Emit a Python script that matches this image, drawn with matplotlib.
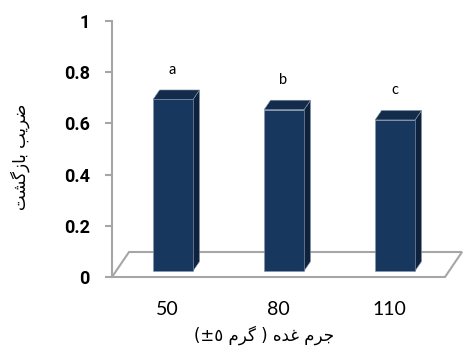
import matplotlib.pyplot as plt
from matplotlib.patches import Polygon, Rectangle

# recovery ratio per tuber weight class
categories = ['50', '80', '110']
values = [0.67, 0.63, 0.59]
letters = ['a', 'b', 'c']
yticks = [0, 0.2, 0.4, 0.6, 0.8, 1]
ytick_labels = ['0', '0.2', '0.4', '0.6', '0.8', '1']

# persian labels, pre-shaped (presentation forms, visual order)
ylabel = '\uFE96\uFEB8\uFB94\uFEAF\uFE8E\uFE91 \uFE90\uFEF3\uFEAE\uFEBF'
xlabel = '(\u00B1\u0665 \uFEE1\uFEAE\uFB94 ) \uFEE9\uFEAA\uFECF \uFEE1\uFEAE\uFE9F'

fig = plt.figure(figsize=(4.64, 3.47), dpi=100)
ax = fig.add_axes([112 / 464, 70 / 347, 333 / 464, 256 / 347])
ax.set_xlim(-0.5, 2.5)
ax.set_ylim(0, 1)

# one pixel in data units
ux = 1 / 111
uy = 1 / 256

# floor of the 3d box
fdx, fdy = 17 * ux, 25 * uy
floor = Polygon([(-0.5, 0), (2.5, 0), (2.5 + fdx, fdy), (-0.5 + fdx, fdy)],
                closed=True, fill=False, edgecolor='#a6a6a6', lw=1.5, clip_on=False, zorder=1)
ax.add_patch(floor)

front_c = '#17375e'
top_c = '#132c4b'
side_c = '#0f223b'
bw = 0.36
bdx, bdy = 6.5 * ux, 9.5 * uy
base = 6 * uy
for i, v in enumerate(values):
    L = i - 0.13
    R = L + bw
    B = base
    T = base + v
    ax.add_patch(Polygon([(R, B), (R + bdx, B + bdy), (R + bdx, T + bdy), (R, T)],
                         closed=True, facecolor=side_c, edgecolor='#8596ad', lw=0.4,
                         clip_on=False, zorder=3))
    ax.add_patch(Polygon([(L, T), (R, T), (R + bdx, T + bdy), (L + bdx, T + bdy)],
                         closed=True, facecolor=top_c, edgecolor='#8596ad', lw=0.4,
                         clip_on=False, zorder=3))
    ax.add_patch(Rectangle((L, B), bw, v, facecolor=front_c, edgecolor='#8596ad', lw=0.4,
                           clip_on=False, zorder=4))
    ax.text(i + 0.045, v + 0.14, letters[i], ha='center', va='center',
            fontsize=10.5, family='Lato', color='black')

for s in ['top', 'right', 'bottom']:
    ax.spines[s].set_visible(False)
ax.spines['left'].set_color('#a6a6a6')
ax.spines['left'].set_linewidth(1.5)

ax.set_yticks(yticks)
ax.set_yticklabels(ytick_labels, family='Roboto', fontweight='bold', fontsize=13)
ax.tick_params(axis='y', length=5, width=1.5, color='#a6a6a6', pad=11)

ax.set_xticks(range(len(categories)))
ax.set_xticklabels(categories, family='Lato', fontsize=14)
ax.tick_params(axis='x', length=0, pad=17)

fig.text(20 / 464, 1 - 157 / 347, ylabel, rotation=90, ha='center', va='center',
         family='DejaVu Sans', fontsize=12)
fig.text(264 / 464, 1 - 335 / 347, xlabel, ha='center', va='center',
         family='DejaVu Sans', fontsize=12)

fig.savefig('out.png', dpi=100)
